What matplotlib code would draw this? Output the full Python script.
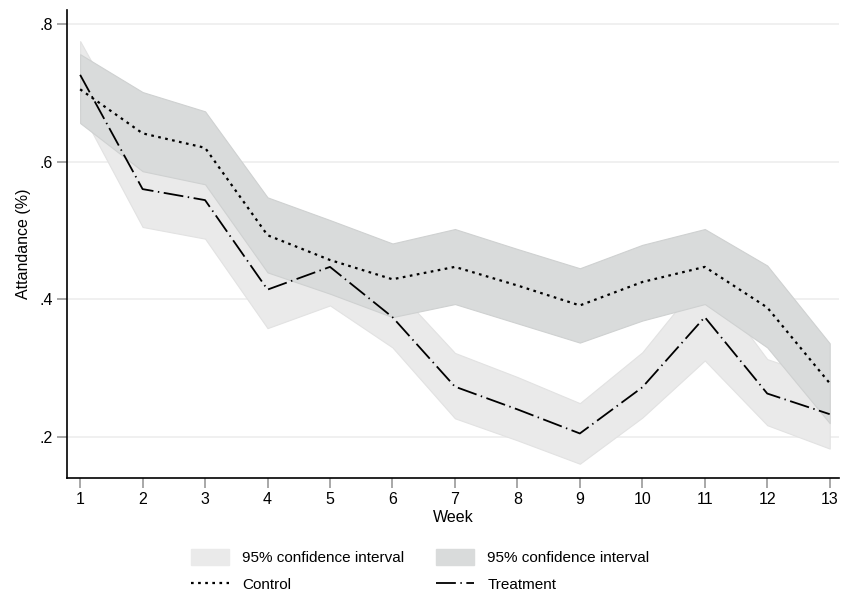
import numpy as np
import matplotlib
matplotlib.use("Agg")
import matplotlib.pyplot as plt
from matplotlib.patches import Patch
from matplotlib.lines import Line2D

plt.rcParams["font.family"] = ["Liberation Sans", "DejaVu Sans"]

# ── Data ──────────────────────────────────────────────────────────────
weeks = np.arange(1, 14)

control    = [0.705, 0.641, 0.620, 0.493, 0.457, 0.429, 0.447, 0.420, 0.391, 0.425, 0.447, 0.388, 0.278]
control_hi = [0.756, 0.701, 0.673, 0.548, 0.515, 0.481, 0.502, 0.473, 0.445, 0.479, 0.502, 0.449, 0.336]
control_lo = [0.656, 0.586, 0.567, 0.439, 0.408, 0.374, 0.393, 0.365, 0.337, 0.369, 0.393, 0.330, 0.220]

treat    = [0.726, 0.560, 0.544, 0.414, 0.447, 0.374, 0.273, 0.240, 0.205, 0.272, 0.374, 0.263, 0.233]
treat_hi = [0.775, 0.612, 0.598, 0.470, 0.500, 0.420, 0.322, 0.287, 0.249, 0.323, 0.435, 0.313, 0.282]
treat_lo = [0.675, 0.505, 0.488, 0.358, 0.391, 0.330, 0.227, 0.195, 0.161, 0.228, 0.311, 0.217, 0.183]

light_grey = "#EAEAEA"
dark_grey  = "#D9DBDB"

# ── Figure ────────────────────────────────────────────────────────────
fig = plt.figure(figsize=(8.41, 5.97), dpi=100)
ax = fig.add_axes([0.0797, 0.199, 0.918, 0.784])

ax.fill_between(weeks, treat_lo, treat_hi, facecolor=light_grey,
                edgecolor="#E2E2E2", linewidth=0.8, zorder=1)
ax.fill_between(weeks, control_lo, control_hi, facecolor=dark_grey,
                edgecolor="#CFD1D1", linewidth=0.8, zorder=2)

ax.plot(weeks, control, color="black", lw=1.6, dashes=(1.2, 2.0), zorder=3)
ax.plot(weeks, treat, color="black", lw=1.3, dashes=(11, 2.5, 0.8, 2.5), zorder=3)

ax.set_xlim(0.79, 13.15)
ax.set_ylim(0.14, 0.82)
ax.set_xticks(weeks)
ax.set_yticks([0.2, 0.4, 0.6, 0.8])
ax.set_yticklabels([".2", ".4", ".6", ".8"])
ax.grid(True, axis="y", color="#EEEEEE", lw=1.2)
ax.set_axisbelow(True)

for s in ["top", "right"]:
    ax.spines[s].set_visible(False)
for s in ["left", "bottom"]:
    ax.spines[s].set_color("black")
    ax.spines[s].set_linewidth(1.2)

ax.tick_params(axis="both", direction="out", length=7, width=1.2,
               color="#999999", labelsize=11.5, pad=3)

ax.set_xlabel("Week", fontsize=11.5, labelpad=2)
ax.set_ylabel("Attandance (%)", fontsize=11.5, labelpad=6)

# ── Legend ────────────────────────────────────────────────────────────
handles = [
    Patch(facecolor=light_grey, edgecolor=light_grey),
    Line2D([], [], color="black", lw=1.6, dashes=(1.2, 2.0)),
    Patch(facecolor=dark_grey, edgecolor=dark_grey),
    Line2D([], [], color="black", lw=1.3, dashes=(11, 2.5, 0.8, 2.5)),
]
labels = ["95% confidence interval", "Control",
          "95% confidence interval", "Treatment"]
fig.legend(handles, labels, ncol=2, frameon=False, fontsize=11,
           loc="center", bbox_to_anchor=(0.4995, 0.044),
           handlelength=2.5, handleheight=1.25, columnspacing=2.1,
           labelspacing=0.7, handletextpad=0.85)

fig.savefig("out.png", dpi=100)
